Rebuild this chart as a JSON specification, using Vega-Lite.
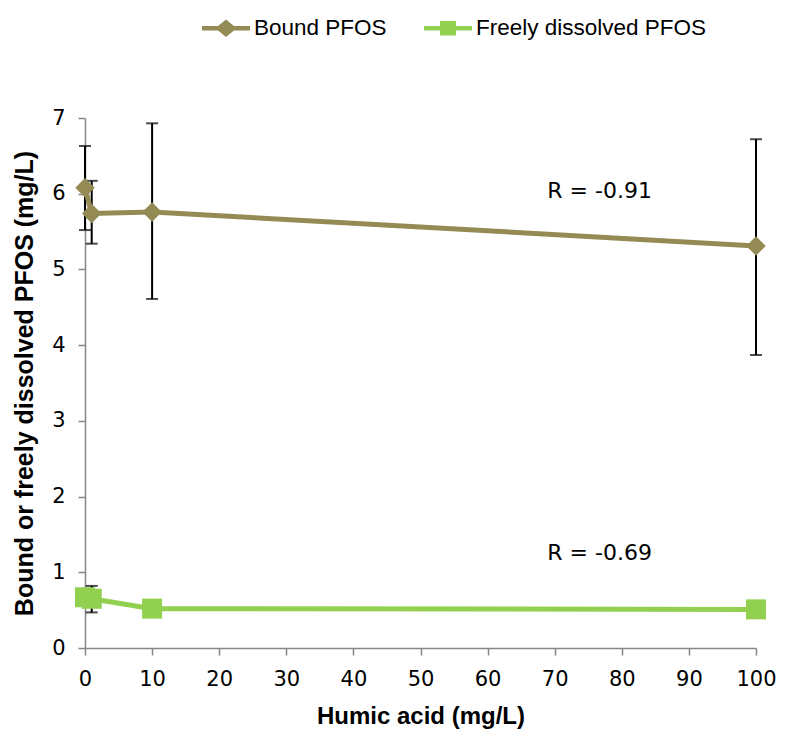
{
  "$schema": "https://vega.github.io/schema/vega-lite/v6.json",
  "width": 671,
  "height": 530,
  "autosize": {"type": "none"},
  "padding": {"left": 85, "top": 118, "right": 41, "bottom": 81},
  "background": "white",
  "config": {
    "view": {"stroke": null},
    "font": "Liberation Sans",
    "axis": {
      "grid": false,
      "domainColor": "#868686",
      "domainWidth": 1.5,
      "tickColor": "#868686",
      "tickWidth": 1.5,
      "tickSize": 7,
      "labelFont": "DejaVu Sans",
      "labelFontSize": 21,
      "labelColor": "black",
      "labelPadding": 13,
      "labelFlush": false,
      "labelOverlap": false,
      "titleFont": "Liberation Sans",
      "titleFontWeight": "bold",
      "titleFontSize": 24,
      "titleColor": "black"
    }
  },
  "data": {
    "values": [
      {"series": "Bound PFOS", "x": 0, "y": 6.08, "lo": 5.52, "hi": 6.63},
      {"series": "Bound PFOS", "x": 1, "y": 5.74, "lo": 5.34, "hi": 6.17},
      {"series": "Bound PFOS", "x": 10, "y": 5.76, "lo": 4.61, "hi": 6.93},
      {"series": "Bound PFOS", "x": 100, "y": 5.31, "lo": 3.87, "hi": 6.72},
      {"series": "Freely dissolved PFOS", "x": 0, "y": 0.67},
      {"series": "Freely dissolved PFOS", "x": 1, "y": 0.65, "lo": 0.47, "hi": 0.82},
      {"series": "Freely dissolved PFOS", "x": 10, "y": 0.52},
      {"series": "Freely dissolved PFOS", "x": 100, "y": 0.51}
    ]
  },
  "encoding": {
    "x": {
      "field": "x",
      "type": "quantitative",
      "scale": {"domain": [0, 100], "nice": false},
      "axis": {"values": [0, 10, 20, 30, 40, 50, 60, 70, 80, 90, 100], "format": "d", "title": "Humic acid (mg/L)", "titlePadding": 15}
    }
  },
  "layer": [
    {
      "transform": [{"filter": "isValid(datum.lo)"}],
      "mark": {"type": "errorbar", "color": "black", "thickness": 2, "ticks": {"size": 12, "thickness": 2, "color": "black"}},
      "encoding": {
        "y": {
          "field": "lo",
          "type": "quantitative",
          "scale": {"domain": [0, 7], "nice": false},
          "axis": {"values": [0, 1, 2, 3, 4, 5, 6, 7], "format": "d", "title": "Bound or freely dissolved PFOS (mg/L)", "titleFontSize": 25, "titlePadding": 14}
        },
        "y2": {"field": "hi"}
      }
    },
    {
      "mark": {"type": "line", "strokeWidth": 5},
      "encoding": {
        "y": {"field": "y", "type": "quantitative", "scale": {"domain": [0, 7], "nice": false}, "title": "Bound or freely dissolved PFOS (mg/L)"},
        "color": {
          "field": "series",
          "type": "nominal",
          "scale": {"domain": ["Bound PFOS", "Freely dissolved PFOS"], "range": ["#948A54", "#92D050"]},
          "legend": {
            "orient": "none",
            "legendX": 117,
            "legendY": -114,
            "direction": "horizontal",
            "title": null,
            "symbolSize": 2304,
            "symbolStrokeWidth": 0,
            "labelFont": "Liberation Sans",
            "labelFontSize": 22.5,
            "labelColor": "black",
            "labelOffset": 4,
            "labelLimit": 500,
            "columnPadding": 37,
            "encode": {
              "symbols": {
                "update": {
                  "shape": {"signal": "datum.value === 'Bound PFOS' ? 'M-1,-0.09H-0.33L0,-0.36L0.33,-0.09H1V0.09H0.33L0,0.36L-0.33,0.09H-1Z' : 'M-1,-0.09H-0.33V-0.3H0.33V-0.09H1V0.09H0.33V0.3H-0.33V0.09H-1Z'"},
                  "fill": {"scale": "color", "field": "value"},
                  "stroke": {"value": "transparent"},
                  "opacity": {"value": 1},
                  "fillOpacity": {"value": 1}
                }
              }
            }
          }
        }
      }
    },
    {
      "transform": [{"filter": "datum.series === 'Bound PFOS'"}],
      "mark": {"type": "point", "filled": true, "opacity": 1, "shape": "diamond", "size": 380},
      "encoding": {
        "y": {"field": "y", "type": "quantitative", "scale": {"domain": [0, 7], "nice": false}, "title": "Bound or freely dissolved PFOS (mg/L)"},
        "color": {"field": "series", "type": "nominal", "scale": {"domain": ["Bound PFOS", "Freely dissolved PFOS"], "range": ["#948A54", "#92D050"]}}
      }
    },
    {
      "transform": [{"filter": "datum.series === 'Freely dissolved PFOS'"}],
      "mark": {"type": "point", "filled": true, "opacity": 1, "shape": "square", "size": 400},
      "encoding": {
        "y": {"field": "y", "type": "quantitative", "scale": {"domain": [0, 7], "nice": false}, "title": "Bound or freely dissolved PFOS (mg/L)"},
        "color": {"field": "series", "type": "nominal", "scale": {"domain": ["Bound PFOS", "Freely dissolved PFOS"], "range": ["#948A54", "#92D050"]}}
      }
    },
    {
      "data": {
        "values": [
          {"label": "R = -0.91", "x": 76.7, "y": 6.03},
          {"label": "R = -0.69", "x": 76.7, "y": 1.25}
        ]
      },
      "mark": {"type": "text", "font": "DejaVu Sans", "fontSize": 22, "color": "black", "align": "center", "baseline": "middle"},
      "encoding": {
        "y": {"field": "y", "type": "quantitative", "scale": {"domain": [0, 7], "nice": false}, "title": "Bound or freely dissolved PFOS (mg/L)"},
        "text": {"field": "label"}
      }
    }
  ]
}
